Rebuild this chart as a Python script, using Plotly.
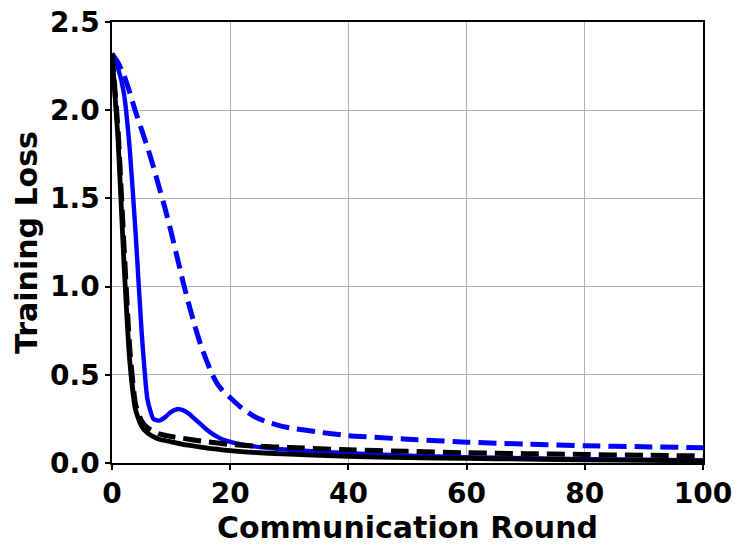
import plotly.graph_objects as go

# ---- data ----
blue_solid_x = [0, 1, 2, 3, 4, 5, 6, 7, 8, 9, 10, 11, 12, 13, 14, 15, 16, 17, 18, 19, 20,
                22, 25, 30, 40, 50, 60, 70, 80, 90, 100]
blue_solid_y = [2.32, 2.24, 2.10, 1.78, 1.30, 0.75, 0.36, 0.25, 0.24, 0.26, 0.29, 0.305, 0.30,
                0.28, 0.25, 0.22, 0.19, 0.165, 0.145, 0.13, 0.12,
                0.105, 0.09, 0.075, 0.055, 0.042, 0.033, 0.027, 0.022, 0.018, 0.015]

blue_dash_x = [0, 1, 2, 3, 4, 5, 6, 7, 8, 9, 10, 11, 12, 13, 14, 15, 16, 17, 18, 19, 20,
               22, 24, 26, 28, 30, 35, 40, 50, 60, 70, 80, 90, 100]
blue_dash_y = [2.32, 2.27, 2.20, 2.10, 1.99, 1.89, 1.79, 1.68, 1.56, 1.44, 1.31, 1.17, 1.03,
               0.90, 0.78, 0.67, 0.58, 0.50, 0.44, 0.40, 0.37,
               0.31, 0.265, 0.235, 0.215, 0.20, 0.175, 0.155, 0.135, 0.118, 0.107, 0.098, 0.092, 0.087]

black_solid_x = [0, 1, 2, 3, 4, 5, 6, 7, 8, 10, 12, 15, 20, 25, 30, 40, 50, 60, 70, 80, 90, 100]
black_solid_y = [2.32, 1.85, 1.15, 0.58, 0.30, 0.21, 0.17, 0.15, 0.135, 0.12, 0.105, 0.09, 0.07,
                 0.058, 0.05, 0.038, 0.03, 0.026, 0.022, 0.018, 0.015, 0.012]

black_dash_x = [0, 1, 2, 3, 4, 5, 6, 7, 8, 10, 12, 15, 20, 25, 30, 40, 50, 60, 70, 80, 90, 100]
black_dash_y = [2.32, 1.90, 1.25, 0.65, 0.33, 0.24, 0.20, 0.18, 0.165, 0.15, 0.14, 0.125, 0.105,
                0.095, 0.088, 0.075, 0.066, 0.058, 0.053, 0.048, 0.044, 0.040]

x_ticks = [0, 20, 40, 60, 80, 100]
y_ticks = [0.0, 0.5, 1.0, 1.5, 2.0, 2.5]
y_tick_text = ["0.0", "0.5", "1.0", "1.5", "2.0", "2.5"]

fig = go.Figure()
fig.add_trace(go.Scatter(x=blue_dash_x, y=blue_dash_y, mode="lines",
                         line=dict(color="#0000ff", width=5, dash="18px,8px", shape="spline", smoothing=0.5)))
fig.add_trace(go.Scatter(x=blue_solid_x, y=blue_solid_y, mode="lines",
                         line=dict(color="#0000ff", width=4.4, shape="spline", smoothing=0.5)))
fig.add_trace(go.Scatter(x=black_solid_x, y=black_solid_y, mode="lines",
                         line=dict(color="#000000", width=4.8, shape="spline", smoothing=0.5)))
fig.add_trace(go.Scatter(x=black_dash_x, y=black_dash_y, mode="lines",
                         line=dict(color="#000000", width=5, dash="18px,8px", shape="spline", smoothing=0.5)))

tick_font = dict(family="DejaVu Sans", size=28, color="black", weight="bold")
title_font = dict(family="DejaVu Sans", size=30, color="black", weight="bold")

fig.update_layout(
    width=747, height=552,
    margin=dict(l=112, r=44, t=22, b=89, autoexpand=False),
    paper_bgcolor="white", plot_bgcolor="white",
    showlegend=False,
    hovermode=False,
    font=tick_font,
)
fig.update_xaxes(
    range=[0, 100], tickvals=x_ticks, ticktext=[str(v) for v in x_ticks],
    showgrid=True, gridcolor="#b0b0b0", gridwidth=1,
    showline=True, linecolor="black", linewidth=1.5, mirror=True,
    ticks="outside", ticklen=5, tickwidth=1.5, tickcolor="black",
    zeroline=False, tickfont=tick_font, automargin=False, ticklabeloverflow="allow",
    title=dict(text="Communication Round", font=title_font, standoff=0),
)
fig.update_yaxes(
    range=[0, 2.5], tickvals=y_ticks, ticktext=y_tick_text,
    showgrid=True, gridcolor="#b0b0b0", gridwidth=1,
    showline=True, linecolor="black", linewidth=1.5, mirror=True,
    ticks="outside", ticklen=5, tickwidth=1.5, tickcolor="black",
    zeroline=False, tickfont=tick_font, automargin=False, ticklabeloverflow="allow",
    title=dict(text="Training Loss", font=title_font, standoff=4),
)

# remove the page's default 8px body margin so the figure fills the window exactly
fig.write_html("out.html",
               config={"displayModeBar": False},
               post_script="document.body.style.margin='0';document.body.style.overflow='hidden';")
